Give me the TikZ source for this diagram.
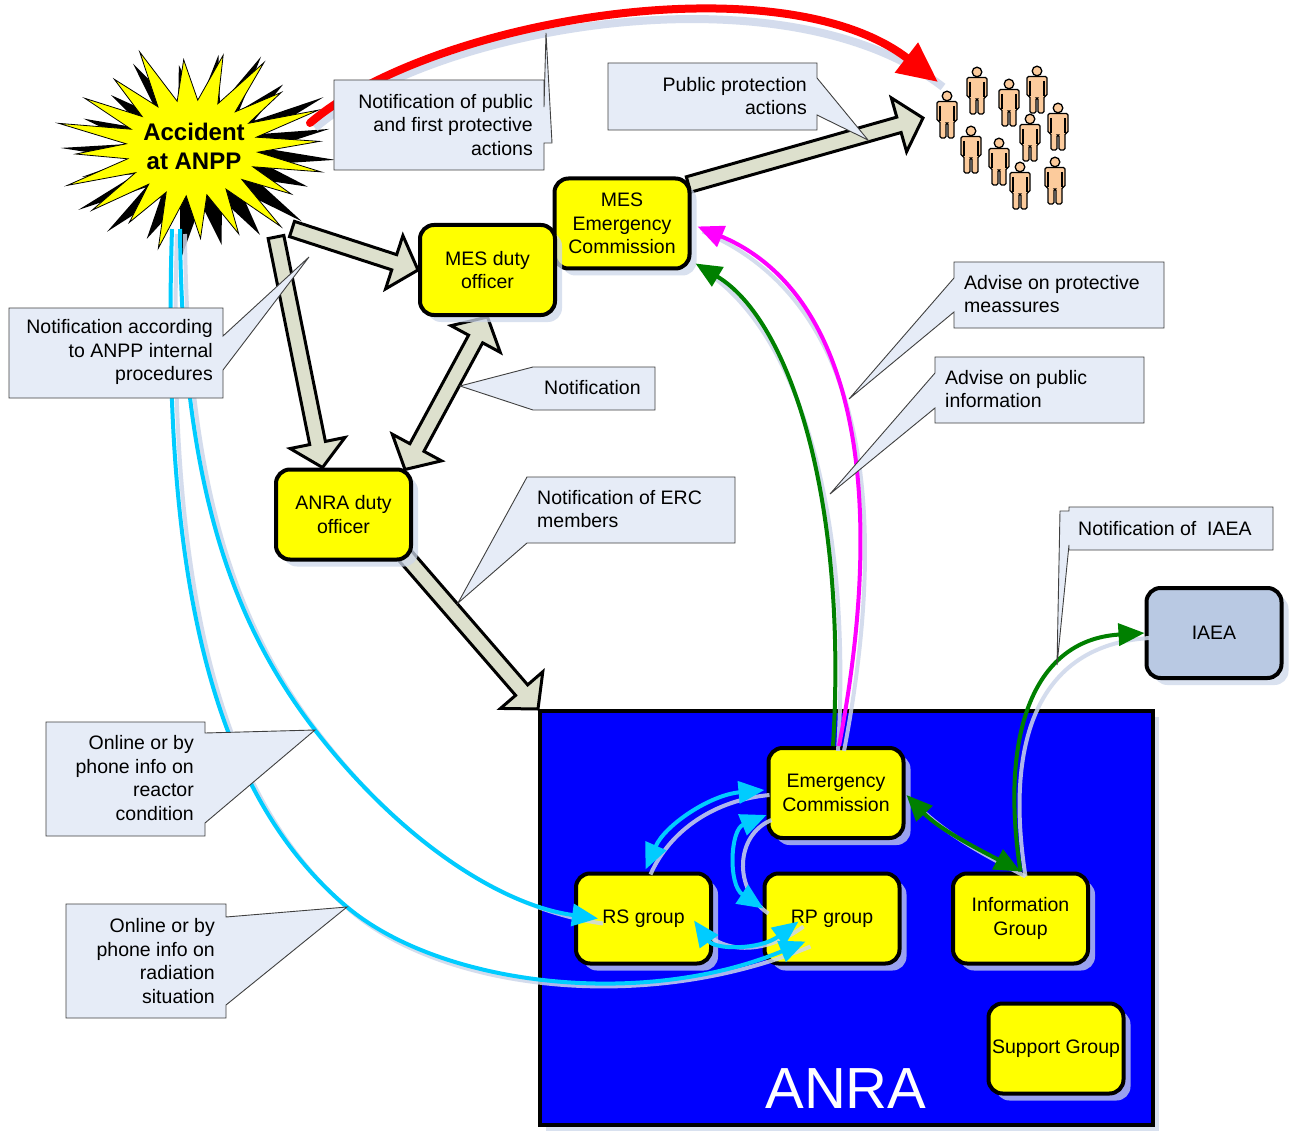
\documentclass[tikz,border=0pt]{standalone}
\usepackage{fontspec}
\setmainfont{Liberation Sans}
\usetikzlibrary{calc,arrows.meta,shapes.geometric,shadows}
\pgfdeclarelayer{bg}
\pgfdeclarelayer{fg}
\pgfsetlayers{bg,main,fg}
\definecolor{yellowc}{HTML}{FFFF00}
\definecolor{cyanc}{HTML}{00CCFF}
\definecolor{greenc}{HTML}{008000}
\definecolor{magc}{HTML}{FF00FF}
\definecolor{callfill}{HTML}{E6ECF7}
\definecolor{calldraw}{HTML}{404040}
\definecolor{fatfill}{HTML}{DDE0CD}
\definecolor{shadowc}{HTML}{CDD7EA}
\definecolor{iaeac}{HTML}{B9C9E3}
\definecolor{bluec}{HTML}{0000FF}
\definecolor{peach}{HTML}{FCCB9C}
\definecolor{redc}{HTML}{FF0000}
\tikzset{Tp/.tip={Triangle[length=26pt,width=22pt]}}
\tikzset{person/.pic={
  \draw[fill=peach, line width=1.3pt, rounded corners=1.5pt] (-10,-5.5) -- (10,-5.5) -- (10,-25) -- (7,-25) -- (7,-42) -- (1,-42) -- (1,-27) -- (-1,-27) -- (-1,-42) -- (-7,-42) -- (-7,-25) -- (-10,-25) -- cycle;
  \draw[line width=1.3pt] (-7,-10) -- (-7,-25) (7,-10) -- (7,-25);
  \draw[fill=peach, line width=1.3pt] (0,0) circle (4.8);
}}
\newcommand\fatarrow[2]{%
  \path (#1) coordinate (FAs);
  \path (#2) coordinate (FAe);
  \path ($(FAe)!25pt!(FAs)$) coordinate (FAh);
  \draw[fatarr] ($(FAs)!8pt!90:(FAe)$) -- ($(FAh)!8pt!90:(FAe)$) -- ($(FAh)!28pt!90:(FAe)$) -- (FAe) -- ($(FAh)!28pt!-90:(FAe)$) -- ($(FAh)!8pt!-90:(FAe)$) -- ($(FAs)!8pt!-90:(FAe)$) -- cycle;}
\newcommand\fatdarrow[2]{%
  \path (#1) coordinate (FAs);
  \path (#2) coordinate (FAe);
  \path ($(FAe)!25pt!(FAs)$) coordinate (FAh);
  \path ($(FAs)!25pt!(FAe)$) coordinate (FAg);
  \draw[fatarr] (FAs) -- ($(FAg)!28pt!90:(FAe)$) -- ($(FAg)!8pt!90:(FAe)$) -- ($(FAh)!8pt!90:(FAe)$) -- ($(FAh)!28pt!90:(FAe)$) -- (FAe) -- ($(FAh)!28pt!-90:(FAe)$) -- ($(FAh)!8pt!-90:(FAe)$) -- ($(FAg)!8pt!-90:(FAe)$) -- ($(FAg)!28pt!-90:(FAe)$) -- cycle;}
\newcommand\starplot{plot[samples at={0,...,39}, variable=\k] ({cos(\k*9+4)*(66+(1-mod(\k,2))*(128*(1+0.09*sin(\k*67))-66))}, {sin(\k*9+4)*(48+(1-mod(\k,2))*(95*(1+0.09*sin(\k*67))-48))})}
\begin{document}
\begin{tikzpicture}[x=1pt,y=1pt,
  txt/.style={font=\fontsize{19.5}{23.5}\selectfont, inner sep=0pt},
  ybox/.style={txt, draw=black, line width=4pt, fill=yellowc, rounded corners=14pt, align=center, minimum width=135pt, minimum height=90pt, drop shadow={shadow xshift=7pt, shadow yshift=-7pt, fill=shadowc, opacity=0.75}},
  callout/.style={fill=callfill, draw=calldraw, line width=0.9pt, line join=miter},
  ctext/.style={txt, text=black},
  fatarr/.style={draw=black, line width=3pt, fill=fatfill, line join=miter},
  cshadow/.style={draw=shadowc, opacity=0.85, transform canvas={shift={(5pt,-5pt)}}},
  cyanl/.style={draw=cyanc, line width=4pt, -Tp},
  cyand/.style={draw=cyanc, line width=4pt, Tp-Tp},
  greenl/.style={draw=greenc, line width=4pt, -Tp},
  greend/.style={draw=greenc, line width=4pt, Tp-Tp},
  magl/.style={draw=magc, line width=4pt, -Tp},
  redl/.style={draw=redc, line width=8pt, line cap=round, -{Triangle[length=40pt,width=36pt]}}
]
\useasboundingbox (0,0) rectangle (1299,-1134);

% crowd targets
\coordinate (crowdR) at (938,-82);
\coordinate (crowdF) at (923,-118);

% ---------- main layer: boxes ----------
\node[ybox] (mesec) at (622,-223.5) {MES\\Emergency\\Commission};
\node[ybox] (mesduty) at (487.5,-270) {MES duty\\officer};
\node[ybox] (anraduty) at (343.5,-514.5) {ANRA duty\\officer};
\node[draw=black, line width=4pt, fill=bluec, minimum width=613pt, minimum height=414pt, inner sep=0pt, drop shadow={shadow xshift=6pt, shadow yshift=-6pt, fill=shadowc, opacity=0.75}] (anra) at (846.5,-918) {};
\node[inner sep=0pt, text=white, font=\fontsize{58}{60}\selectfont] (anralabel) at (846,-1089) {ANRA};
\node[ybox] (ec) at (836,-793) {Emergency\\Commission};
\node[ybox] (rs) at (643.5,-918.5) {RS group};
\node[ybox] (rp) at (832,-918.5) {RP group};
\node[ybox] (info) at (1020.5,-918.5) {Information\\Group};
\node[ybox] (support) at (1056,-1048.5) {Support Group};
\node[ybox, fill=iaeac] (iaea) at (1214,-633) {IAEA};

\foreach \px/\py in {947/96, 977/72, 1009/84, 1037/71, 1058/108, 1030/119, 971/131, 999/143, 1020/167, 1055/162}
  \pic at (\px,-\py) {person};

% ---------- background layer ----------
\begin{pgfonlayer}{bg}
\fill[white] (0,0) rectangle (1299,-1134);
\fill[black, shift={(200,-154)}, rotate=8, scale=1.03] \starplot -- cycle;
\draw[fill=yellowc, line width=0.8pt, shift={(192,-148)}] \starplot -- cycle;
\node[ellipse, minimum width=250pt, minimum height=185pt, inner sep=0pt, align=center, font=\bfseries\fontsize{24}{29}\selectfont] (acc) at (194,-146) {Accident\\at ANPP};
\coordinate (accR) at ($(acc.center)+(116,23)$);
\coordinate (accA) at ($(acc.center)+(98,-83)$);
\coordinate (accB) at ($(acc.center)+(82,-91)$);
\coordinate (accL1) at ($(acc.center)+(-22,-83)$);
\coordinate (accL2) at ($(acc.center)+(-14,-83)$);
\def\pRed{(accR) .. controls (430,-20) and (780,40) .. (crowdR)}
\draw[cshadow, line width=8pt] \pRed;
\draw[redl] \pRed;
\fatarrow{accA}{mesduty.west}
\fatarrow{accB}{$(anraduty.north)+(-21,0)$}
\fatdarrow{mesduty.south}{$(anraduty.north east)+(-8,-2)$}
\fatarrow{$(anraduty.south east)+(-8,6)$}{anra.north west}
\fatarrow{$(mesec.north east)+(-3,-8)$}{crowdF}
\end{pgfonlayer}

% ---------- foreground layer ----------
\begin{pgfonlayer}{fg}
\coordinate (rsin) at ($(rs.west)+(24,0)$);
\coordinate (rpin) at ($(rp.west)+(43,-23)$);
\coordinate (ecW1) at ($(ec.west)+(-2,3)$);
\coordinate (ecW2) at ($(ec.west)+(0,-22)$);
\coordinate (rsN) at ($(rs.north)+(2,2)$);
\coordinate (rpW) at ($(rp.west)+(1,10)$);
\coordinate (rsE) at ($(rs.east)+(-19,-2)$);
\coordinate (rpW2) at ($(rp.west)+(36,-3)$);
\coordinate (ecE) at ($(ec.east)+(1,-2)$);
\coordinate (infoN) at (info.north);
\coordinate (ecN1) at ($(ec.north)+(-3,0)$);
\coordinate (ecN2) at ($(ec.north)+(3,0)$);
\coordinate (mesecG) at ($(mesec.south east)+(4,7)$);
\coordinate (mesecM) at ($(mesec.east)+(6,-3)$);

\def\pCyB{(accL2) .. controls (182,-480) and (230,-620) .. (315,-730) .. controls (400,-840) and (500,-905) .. (rsin)}
\def\pCyA{(accL1) .. controls (160,-600) and (220,-800) .. (347,-907) .. controls (440,-985) and (640,-1010) .. (rpin)}
\def\pGrA{(ecN1) .. controls (848,-500) and (790,-320) .. (mesecG)}
\def\pMag{(ecN2) .. controls (890,-480) and (850,-290) .. (mesecM)}
\def\pGrI{(infoN) .. controls (1000,-740) and (1030,-640) .. (iaea.west)}
\def\pCyER{(ecW1) .. controls (710,-795) and (665,-825) .. (rsN)}
\def\pCyEP{(ecW2) .. controls (730,-830) and (728,-885) .. (rpW)}
\def\pCyRR{(rsE) .. controls (715,-950) and (760,-950) .. (rpW2)}
\def\pGrEI{(ecE) .. controls (940,-830) and (980,-850) .. (infoN)}

\foreach \p in {\pCyB,\pCyA,\pGrA,\pMag,\pGrI,\pCyER,\pCyEP,\pCyRR,\pGrEI}
  \draw[cshadow, line width=4pt] \p;

\draw[cyanl] \pCyB;
\draw[cyanl] \pCyA;
\draw[greenl] \pGrA;
\draw[magl] \pMag;
\draw[greenl] \pGrI;
\draw[cyand] \pCyER;
\draw[cyand] \pCyEP;
\draw[cyand] \pCyRR;
\draw[greend] \pGrEI;

% callouts
\draw[callout] (334,-80) -- (544,-80) -- (544,-107) -- (546,-33) -- (552,-143) -- (544,-143) -- (544,-170) -- (334,-170) -- cycle;
\node[ctext, align=right, anchor=east] (c1) at (533,-125) {Notification of public\\and first protective\\actions};

\draw[callout] (608,-63) -- (817,-63) -- (817,-78) -- (868,-140) -- (817,-115) -- (817,-130) -- (608,-130) -- cycle;
\node[ctext, align=right, anchor=east] (c2) at (807,-96) {Public protection\\actions};

\draw[callout] (9,-308) -- (223,-308) -- (223,-336) -- (309,-257) -- (223,-370) -- (223,-398) -- (9,-398) -- cycle;
\node[ctext, align=right, anchor=east] (c3) at (213,-352) {Notification according\\to ANPP internal\\procedures};

\draw[callout] (460,-386) -- (533,-367) -- (655,-367) -- (655,-410) -- (533,-410) -- cycle;
\node[ctext, anchor=west] (c4) at (544,-388) {Notification};

\draw[callout] (458,-603) -- (527,-477) -- (735,-477) -- (735,-543) -- (527,-543) -- cycle;
\node[ctext, align=left, anchor=west] (c5) at (537,-509) {Notification of ERC\\members};

\draw[callout] (46,-722) -- (205,-722) -- (205,-733) -- (315,-730) -- (205,-823) -- (205,-836) -- (46,-836) -- cycle;
\node[ctext, align=right, anchor=east] (c6) at (194,-778) {Online or by\\phone info on\\reactor\\condition};

\draw[callout] (66,-904) -- (226,-904) -- (226,-917) -- (347,-907) -- (226,-1005) -- (226,-1018) -- (66,-1018) -- cycle;
\node[ctext, align=right, anchor=east] (c7) at (215,-961) {Online or by\\phone info on\\radiation\\situation};

\draw[callout] (954,-262) -- (1164,-262) -- (1164,-328) -- (954,-328) -- (954,-312) -- (849,-399) -- (954,-278) -- cycle;
\node[ctext, align=left, anchor=west] (c8) at (964,-294) {Advise on protective\\meassures};

\draw[callout] (935,-357) -- (1144,-357) -- (1144,-423) -- (935,-423) -- (935,-408) -- (830,-494) -- (935,-373) -- cycle;
\node[ctext, align=left, anchor=west] (c9) at (945,-389) {Advise on public\\information};

\draw[callout] (1069,-507) -- (1273,-507) -- (1273,-550) -- (1069,-550) -- (1069,-545) -- (1057,-665) -- (1060,-511) -- (1069,-511) -- cycle;
\node[ctext, anchor=west] (c10) at (1078,-529) {Notification of\ \ IAEA};
\end{pgfonlayer}
\end{tikzpicture}
\end{document}
